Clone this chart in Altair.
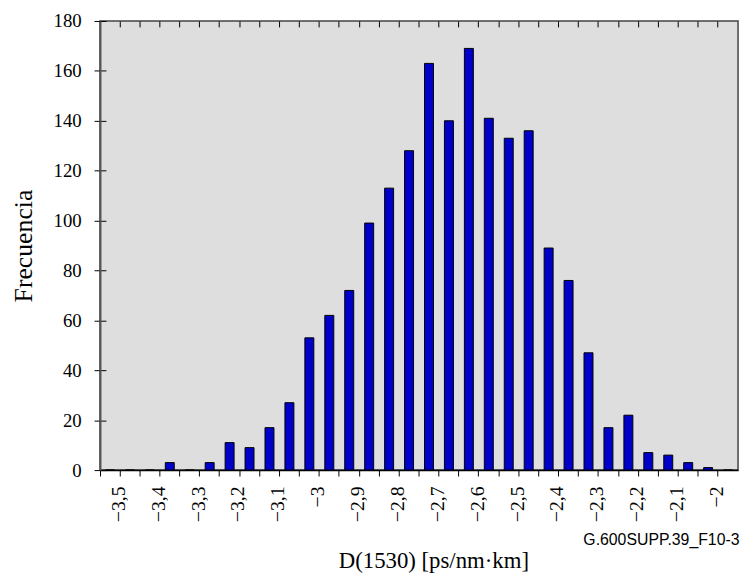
import altair as alt
import pandas as pd

# Bin centres (ps/nm·km), one bar slot each
categories = ["-3.50", "-3.45", "-3.40", "-3.35", "-3.30", "-3.25", "-3.20", "-3.15",
              "-3.10", "-3.05", "-3.00", "-2.95", "-2.90", "-2.85", "-2.80", "-2.75",
              "-2.70", "-2.65", "-2.60", "-2.55", "-2.50", "-2.45", "-2.40", "-2.35",
              "-2.30", "-2.25", "-2.20", "-2.15", "-2.10", "-2.05", "-2.00", "-1.95"]

# Frequencies
counts = [0, 0, 0, 3, 0, 3, 11, 9,
          17, 27, 53, 62, 72, 99, 113, 128,
          163, 140, 169, 141, 133, 136, 89, 76,
          47, 17, 22, 7, 6, 3, 1, 0]

# Tick labels (every other slot)
tick_labels = ["−3,5", "", "−3,4", "", "−3,3", "", "−3,2", "",
               "−3,1", "", "−3", "", "−2,9", "", "−2,8", "",
               "−2,7", "", "−2,6", "", "−2,5", "", "−2,4", "",
               "−2,3", "", "−2,2", "", "−2,1", "", "−2", ""]

y_ticks = [0, 20, 40, 60, 80, 100, 120, 140, 160, 180]

df = pd.DataFrame({"bin": categories, "freq": counts})

label_expr = ("[" + ",".join(f"'{t}'" for t in tick_labels) + "][indexof(["
              + ",".join(f"'{c}'" for c in categories) + "], datum.value)]")

serif = "Liberation Serif"

chart = alt.Chart(df).mark_bar(
    width=alt.RelativeBandSize(0.45),
    color="#0000C8",
    stroke="#000000",
    strokeWidth=1,
).encode(
    x=alt.X(
        "bin:O",
        sort=categories,
        scale=alt.Scale(paddingInner=0, paddingOuter=0),
        axis=alt.Axis(
            title="G.600SUPP.39_F10-3",
            titleFont="Liberation Sans",
            titleFontSize=16,
            titleFontWeight="normal",
            titleColor="#000000",
            titleX=646,
            titleAlign="right",
            titlePadding=10,
            labelExpr=label_expr,
            labelAngle=-90,
            labelFont=serif,
            labelFontSize=20,
            labelColor="#000000",
            labelPadding=10,
            labelOffset=9,
            labelOverlap=False,
            bandPosition=0,
            tickSize=6,
            tickColor="#000000",
            tickWidth=1,
            domainColor="#000000",
            domainWidth=1.5,
        ),
    ),
    y=alt.Y(
        "freq:Q",
        scale=alt.Scale(domain=[0, 180], nice=False),
        axis=alt.Axis(
            title="Frecuencia",
            titleFont=serif,
            titleFontSize=26,
            titleFontWeight="normal",
            titleColor="#000000",
            titlePadding=17,
            values=y_ticks,
            labelFont=serif,
            labelFontSize=19,
            labelColor="#000000",
            labelPadding=13,
            tickSize=6,
            tickColor="#000000",
            domainColor="#555555",
            domainWidth=2,
        ),
    ),
).properties(
    width=645,
    height=454,
    autosize=alt.AutoSizeParams(type="none"),
    padding={"left": 93, "top": 10, "right": 4, "bottom": 108},
    title=alt.TitleParams(
        "D(1530) [ps/nm·km]",
        orient="bottom",
        anchor="middle",
        font=serif,
        fontSize=23,
        fontWeight="normal",
        color="#000000",
        offset=3,
        dx=15,
    ),
).configure(
    background="white",
    axis=alt.AxisConfig(
        grid=True,
        gridColor="#000000",
        gridWidth=1,
        gridDash=[6, 2000],
        gridOpacity=1,
    ),
    view=alt.ViewConfig(fill="#DEDEDE", stroke="#444444", strokeWidth=1.5),
)

chart.save("out.html", embed_options={"renderer": "svg", "actions": False})
